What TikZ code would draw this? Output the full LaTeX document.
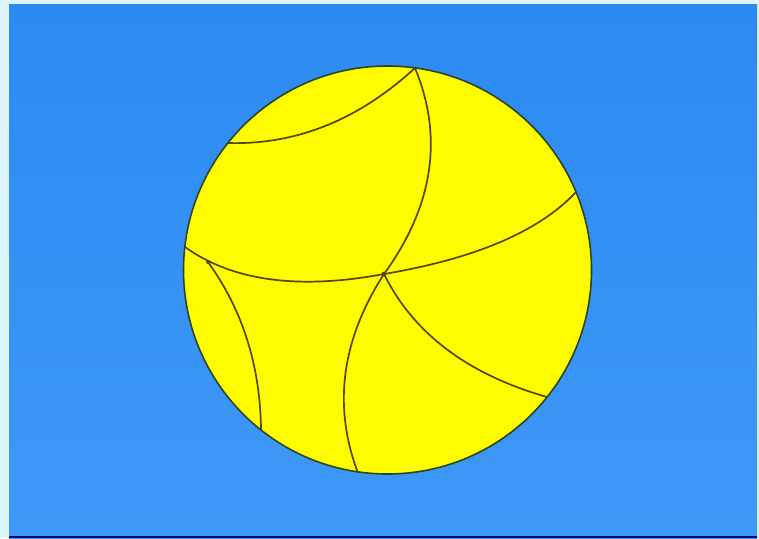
\documentclass[tikz,border=0pt]{standalone}
\usetikzlibrary{calc}
\definecolor{bgcyan}{RGB}{222,245,250}
\definecolor{flagblue}{RGB}{44,138,242}
\definecolor{flagblueb}{RGB}{62,152,246}
\definecolor{sunyellow}{RGB}{255,252,0}
\definecolor{seam}{RGB}{85,70,10}
\definecolor{rim}{RGB}{40,70,40}
\newcommand{\quadarc}[3]{%
  \draw[seamline] (#1) .. controls ($(#1)!0.6667!(#2)$) and ($(#3)!0.6667!(#2)$) .. (#3);}
\begin{document}
\begin{tikzpicture}[x=1pt,y=-1pt,
  seamline/.style={draw=seam,line width=1.7pt,line cap=round}]
\useasboundingbox (0,0) rectangle (759,538);
\fill[bgcyan] (0,0) rectangle (759,538);
\shade[top color=flagblue,bottom color=flagblueb] (9,4) rectangle (757,538);
\fill[black!60!blue] (9,536) rectangle (757,538);
% sun
\coordinate (c) at (387.5,270);
\fill[sunyellow] (c) circle[radius=204];
% junctions, ends and control points
\coordinate (top) at (415,68);
\coordinate (aleft) at (228,143);
\coordinate (eleft) at (185,247);
\coordinate (knot) at (208,262);
\coordinate (hub) at (384,274);
\coordinate (dright) at (576,192);
\coordinate (fend) at (547,397);
\coordinate (cbot) at (358,473);
\coordinate (gbot) at (261,430);
\coordinate (ka) at (330,146);
\coordinate (kb) at (458,172);
\coordinate (kc) at (320,373);
\coordinate (ke) at (256,298);
\coordinate (kd) at (521,251);
\coordinate (kf) at (428,363);
\coordinate (kg) at (260,334);
\begin{scope}
\clip (c) circle[radius=204];
\quadarc{top}{ka}{aleft}
\quadarc{top}{kb}{hub}
\quadarc{hub}{kc}{cbot}
\quadarc{eleft}{ke}{hub}
\quadarc{hub}{kd}{dright}
\quadarc{hub}{kf}{fend}
\quadarc{knot}{kg}{gbot}
\end{scope}
\fill[seam] (hub) circle[radius=2.4];
\fill[seam] (knot) circle[radius=2];
\draw[rim,line width=1.6pt] (c) circle[radius=204];
\end{tikzpicture}
\end{document}
